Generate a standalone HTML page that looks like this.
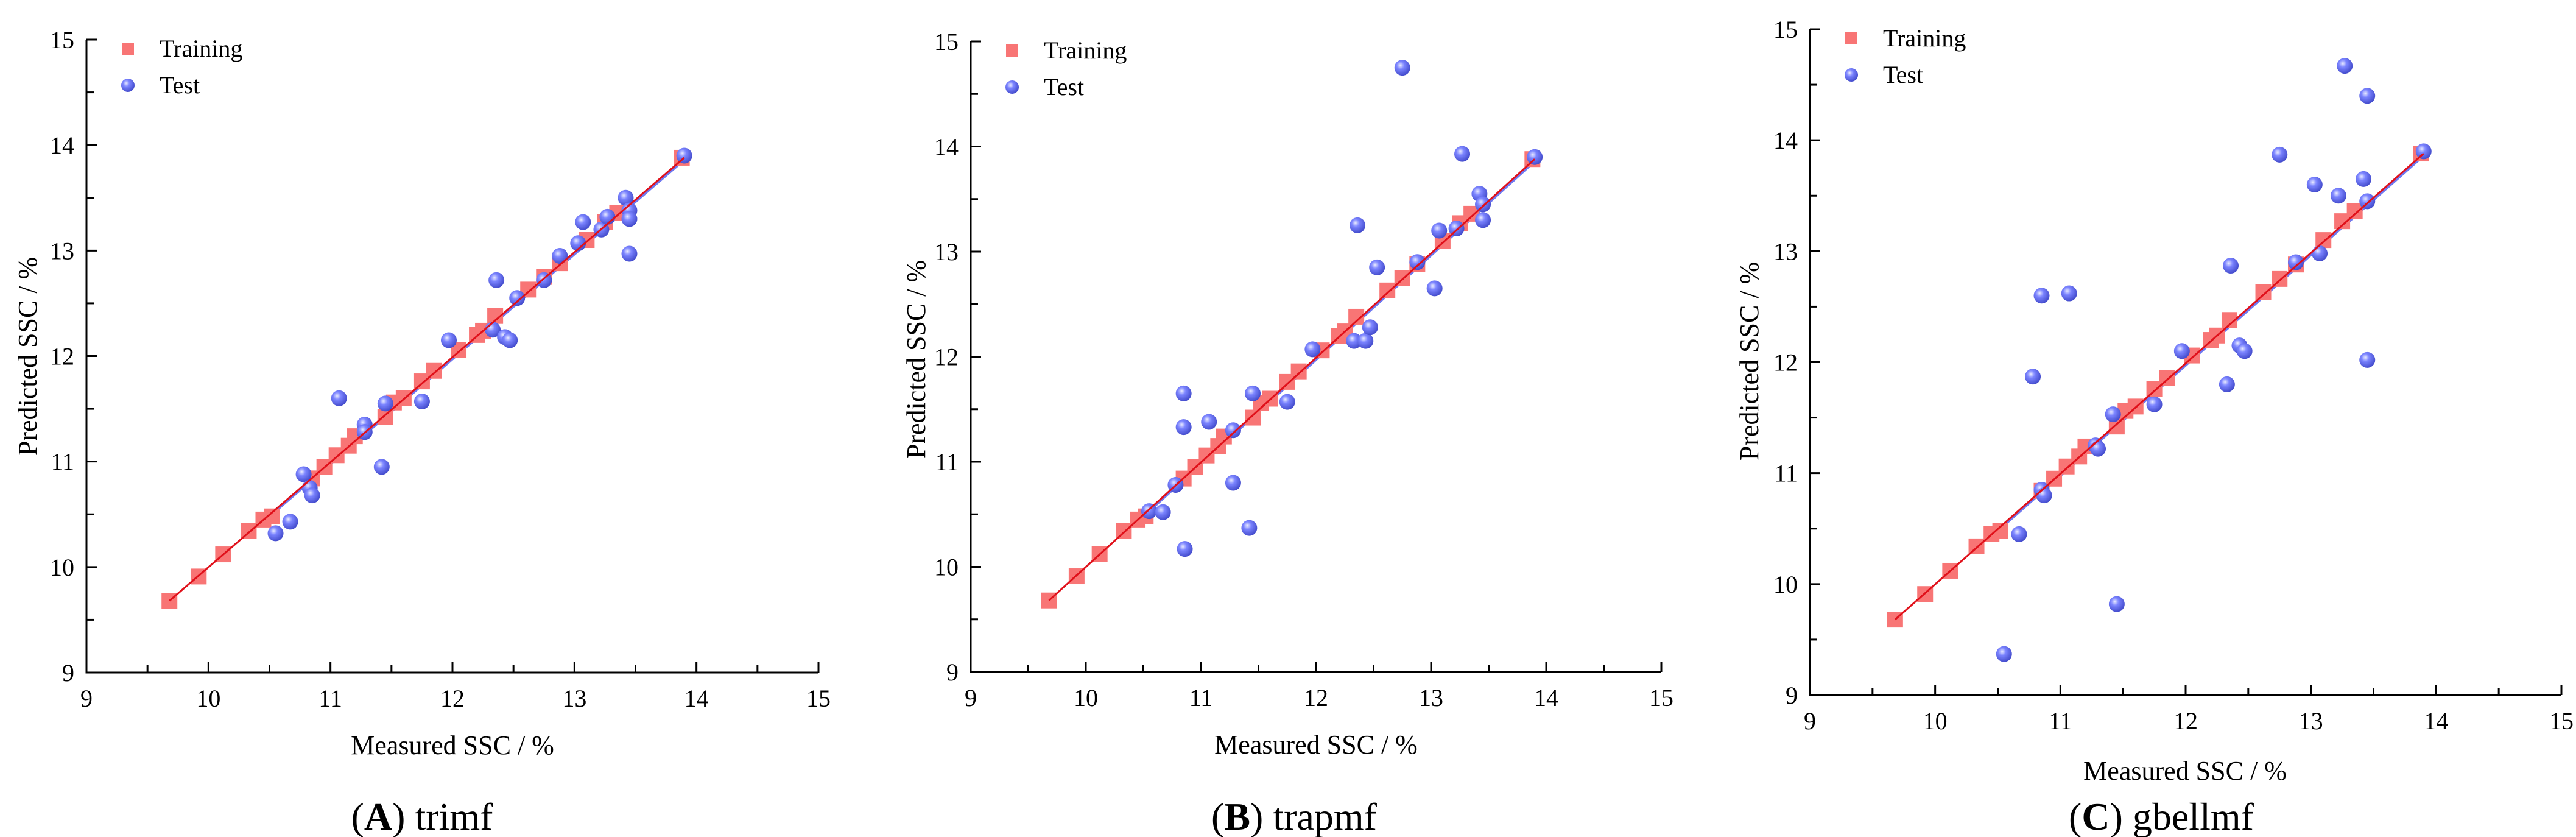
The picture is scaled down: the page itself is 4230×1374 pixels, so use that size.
<!DOCTYPE html>
<html><head><meta charset="utf-8"><style>
html,body{margin:0;padding:0;background:#fff;}
svg{display:block;font-family:"Liberation Serif","Times New Roman",serif;}
svg text{font-family:"Liberation Serif","Times New Roman",serif;}
</style></head><body>
<svg id="fig" width="4230" height="1374" viewBox="0 0 4230 1374" xmlns="http://www.w3.org/2000/svg">
<defs>
<radialGradient id="sph" cx="0.38" cy="0.35" r="0.7">
<stop offset="0" stop-color="#e8eaff"/><stop offset="0.35" stop-color="#7b84ff"/><stop offset="1" stop-color="#3f47c8"/>
</radialGradient>
</defs>
</svg>
<script>
const trainX = [9.68,9.92,10.12,10.33,10.45,10.52,10.85,10.95,11.05,11.15,11.2,11.45,11.52,11.6,11.75,11.85,12.05,12.2,12.25,12.35,12.62,12.75,12.88,13.1,13.25,13.35,13.88];
const trainY = [9.68,9.91,10.12,10.34,10.45,10.48,10.84,10.95,11.06,11.15,11.24,11.42,11.56,11.6,11.76,11.86,12.06,12.2,12.24,12.38,12.63,12.75,12.88,13.1,13.27,13.36,13.88];
const testXA = [10.55,10.67,10.78,10.83,10.85,11.07,11.28,11.28,11.42,11.45,11.75,11.97,12.33,12.36,12.43,12.47,12.53,12.75,12.88,13.03,13.07,13.22,13.27,13.42,13.45,13.45,13.45,13.9];
const testYA = [10.32,10.43,10.88,10.75,10.68,11.6,11.35,11.28,10.95,11.55,11.57,12.15,12.25,12.72,12.18,12.15,12.55,12.72,12.95,13.07,13.27,13.2,13.32,13.5,13.38,13.3,12.97,13.9];
const testXB = [10.55,10.67,10.78,10.85,10.85,10.86,11.07,11.28,11.28,11.42,11.45,11.75,11.97,12.33,12.36,12.43,12.47,12.53,12.75,12.88,13.03,13.07,13.22,13.27,13.42,13.45,13.45,13.9];
const testYB = [10.53,10.52,10.78,11.65,11.33,10.17,11.38,11.3,10.8,10.37,11.65,11.57,12.07,12.15,13.25,12.15,12.28,12.85,14.75,12.9,12.65,13.2,13.22,13.93,13.55,13.45,13.3,13.9];
const testXC = [10.55,10.67,10.78,10.85,10.85,10.87,11.07,11.28,11.3,11.42,11.45,11.75,11.97,12.33,12.36,12.43,12.47,12.75,12.88,13.03,13.07,13.22,13.27,13.42,13.45,13.45,13.45,13.9];
const testYC = [9.37,10.45,11.87,12.6,10.85,10.8,12.62,11.25,11.22,11.53,9.82,11.62,12.1,11.8,12.87,12.15,12.1,13.87,12.9,13.6,12.98,13.5,14.67,13.65,13.45,14.4,12.02,13.9];
const ticks = [9,10,11,12,13,14,15];
const fitLine = [9.68,9.68,13.9,13.88];
const captions = [["A","trimf"],["B","trapmf"],["C","gbellmf"]];

const NS="http://www.w3.org/2000/svg";
const FF='"Liberation Serif", "Times New Roman", serif';
const svg=document.getElementById('fig');
function mk(tag,attrs,parent){const e=document.createElementNS(NS,tag);for(const k in attrs)e.setAttribute(k,attrs[k]);if(tag==='text')e.setAttribute('font-family',FF);(parent||svg).appendChild(e);return e;}

const panels=[
 {x0:142,x1:1344,yT:65,yB:1104,tx:testXA,ty:testYA,ytx:45,yty:585,xtx:743,xty:1238,cx:693,cy:1362},
 {x0:1594,x1:2728,yT:68,yB:1103,tx:testXB,ty:testYB,ytx:1504,yty:590,xtx:2161,xty:1237,cx:2125,cy:1362},
 {x0:2972,x1:4206,yT:48,yB:1141,tx:testXC,ty:testYC,ytx:2872,yty:593,xtx:3588,xty:1280,cx:3549,cy:1362}
];
panels.forEach((p,i)=>{
 const g=mk('g',{});
 
 
 const X=v=>p.x0+(v-9)/6*(p.x1-p.x0);
 const Y=v=>p.yB-(v-9)/6*(p.yB-p.yT);
 const ax=mk('path',{d:`M${p.x0},${p.yT} L${p.x0},${p.yB} L${p.x1},${p.yB}`,fill:'none',stroke:'#000','stroke-width':3},g);
 
 
 for(let t=9;t<=15.001;t+=0.5){
  const major=Math.abs(t-Math.round(t))<0.01;
  const L=major?17:12;
  mk('line',{x1:X(t),y1:p.yB,x2:X(t),y2:p.yB-L,stroke:'#000','stroke-width':3},g);
  mk('line',{x1:p.x0,y1:Y(t),x2:p.x0+L,y2:Y(t),stroke:'#000','stroke-width':3},g);
 }
 ticks.forEach(t=>{
  const a=mk('text',{x:X(t),y:p.yB+56,'font-size':40,'text-anchor':'middle'},g);a.textContent=t;
  
  
  const b=mk('text',{x:p.x0-20,y:Y(t)+14,'font-size':40,'text-anchor':'end'},g);b.textContent=t;
  
  
 });
 const xt=mk('text',{x:p.xtx,y:p.xty,'font-size':44,'text-anchor':'middle'},g);xt.textContent='Measured SSC / %';
 
 
 const yt=mk('text',{x:0,y:0,'font-size':44,'text-anchor':'middle',transform:`translate(${p.ytx+15},${p.yty}) rotate(-90)`},g);yt.textContent=i==0?'Predicted SSC / %':'Predicted  SSC / %';
 yt.setAttribute('xml:space','preserve');
 
 
 const cap=mk('text',{x:p.cx,y:p.cy,'font-size':64,'text-anchor':'middle'},g);
 
 
 const t1=mk('tspan',{},cap);t1.textContent='(';
 const t2=mk('tspan',{'font-weight':'bold'},cap);t2.textContent=captions[i][0];
 const t3=mk('tspan',{},cap);t3.textContent=') '+captions[i][1];
 const bl=mk('line',{x1:X(fitLine[0]+0.85),y1:Y(fitLine[1]+0.83),x2:X(fitLine[2]),y2:Y(fitLine[3]-0.02),stroke:'#6f78f0','stroke-width':4},g);
 
 
 trainX.forEach((x,k)=>{
  const r=mk('rect',{x:X(x)-13,y:Y(trainY[k])-13,width:26,height:26,fill:'#f87575'},g);
  
  
 });
 p.tx.forEach((x,k)=>{
  const c=mk('circle',{cx:X(x),cy:Y(p.ty[k]),r:13,fill:'url(#sph)'},g);
  
  
 });
 const rl=mk('line',{x1:X(fitLine[0]),y1:Y(fitLine[1]),x2:X(fitLine[2]),y2:Y(fitLine[3]),stroke:'#e0101a','stroke-width':3},g);
 
 
 const lx=p.x0+68, ly=p.yT+15;
 const lg=mk('g',{},g);
 
 
 mk('rect',{x:lx-10,y:ly-10,width:20,height:20,fill:'#f87575'},lg);
 const l1=mk('text',{x:lx+52,y:ly+13,'font-size':40},lg);l1.textContent='Training';
 
 
 mk('circle',{cx:lx,cy:ly+60,r:11,fill:'url(#sph)'},lg);
 const l2=mk('text',{x:lx+52,y:ly+73,'font-size':40},lg);l2.textContent='Test';
 
 
});
</script>
</body></html>
